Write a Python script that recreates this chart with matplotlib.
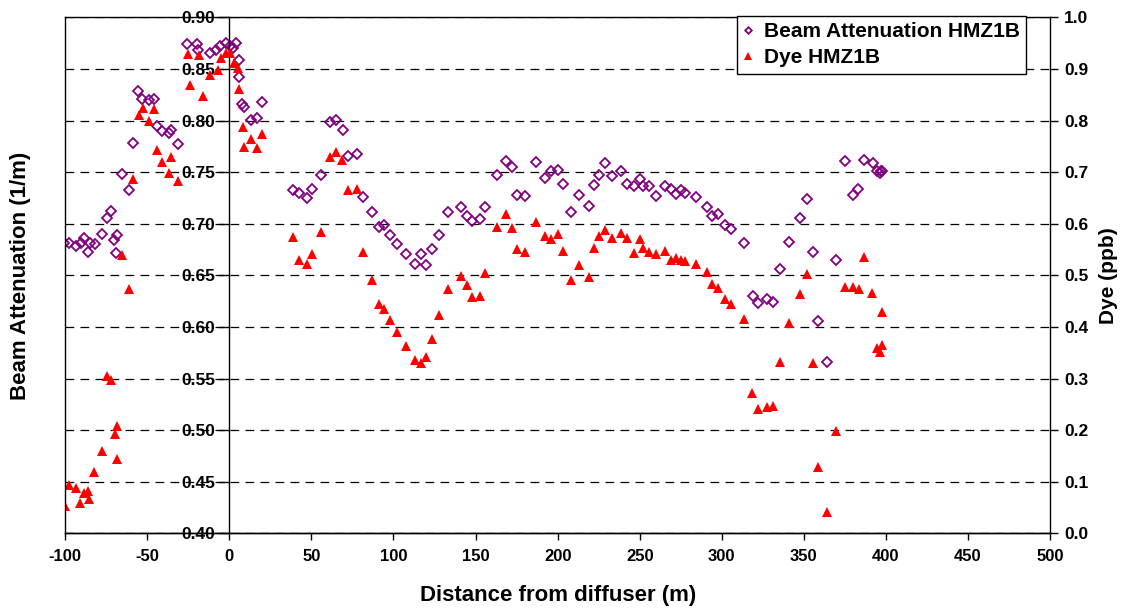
import matplotlib
matplotlib.use("Agg")
from matplotlib import pyplot as plt

plt.rcParams["font.family"] = ["Liberation Sans", "DejaVu Sans"]
plt.rcParams["font.weight"] = "bold"

# beam attenuation samples (distance m, 1/m)
beam_x = [-100.5, -97.7, -93.5, -90.6, -88.6, -86.4, -85.0, -81.9, -77.6, -74.4,
          -72.2, -70.2, -69.1, -68.7, -65.7, -61.2, -59.0, -55.5, -53.3, -48.8,
          -46.2, -44.3, -41.3, -36.8, -35.6, -31.2, -26.1, -20.0, -19.0, -12.1,
          -8.4, -5.8, -2.3, 0.3, 2.3, 3.8, 5.8, 5.8, 7.8, 9.0,
          13.1, 17.0, 20.0, 38.9, 42.3, 47.0, 50.4, 55.9, 61.2, 64.7,
          69.3, 72.4, 77.6, 81.3, 86.8, 90.9, 94.5, 97.7, 102.2, 107.7,
          113.4, 116.8, 119.9, 123.3, 127.8, 133.5, 141.2, 144.5, 147.9, 152.6,
          155.8, 163.1, 168.8, 172.5, 175.5, 180.1, 186.7, 192.1, 196.2, 200.2,
          203.5, 208.0, 212.9, 218.9, 222.2, 225.5, 228.9, 233.1, 238.9, 242.3,
          246.5, 250.0, 252.0, 255.9, 259.9, 265.4, 268.9, 271.9, 275.2, 277.8,
          284.3, 290.8, 294.3, 297.9, 301.9, 305.4, 313.3, 318.8, 322.3, 327.5,
          331.0, 335.3, 340.7, 347.4, 351.9, 355.5, 358.6, 364.0, 369.5, 375.3,
          379.7, 383.2, 386.4, 392.0, 394.3, 396.2, 396.8, 397.8]
beam_values = [0.681, 0.681, 0.678, 0.681, 0.686, 0.673, 0.681, 0.680, 0.690, 0.706,
               0.712, 0.684, 0.672, 0.689, 0.748, 0.733, 0.778, 0.829, 0.821, 0.820,
               0.821, 0.795, 0.790, 0.788, 0.791, 0.777, 0.874, 0.874, 0.868, 0.865,
               0.868, 0.872, 0.875, 0.872, 0.870, 0.875, 0.859, 0.842, 0.816, 0.813,
               0.801, 0.802, 0.818, 0.733, 0.730, 0.725, 0.734, 0.747, 0.799, 0.801,
               0.791, 0.766, 0.768, 0.726, 0.711, 0.697, 0.699, 0.689, 0.680, 0.671,
               0.661, 0.671, 0.660, 0.676, 0.689, 0.711, 0.716, 0.708, 0.703, 0.705,
               0.716, 0.747, 0.761, 0.755, 0.728, 0.727, 0.760, 0.744, 0.751, 0.752,
               0.739, 0.711, 0.728, 0.717, 0.738, 0.747, 0.759, 0.746, 0.751, 0.739,
               0.737, 0.743, 0.737, 0.737, 0.727, 0.737, 0.734, 0.729, 0.733, 0.730,
               0.726, 0.716, 0.708, 0.709, 0.699, 0.695, 0.681, 0.630, 0.623, 0.627,
               0.624, 0.656, 0.682, 0.706, 0.724, 0.673, 0.606, 0.566, 0.665, 0.761,
               0.728, 0.734, 0.762, 0.759, 0.751, 0.749, 0.751, 0.751]

# dye concentration samples (distance m, ppb)
dye_x = [-100.2, -97.7, -93.5, -91.0, -88.6, -86.2, -85.4, -82.3, -77.8, -74.4,
         -71.9, -69.7, -68.7, -68.7, -65.7, -61.2, -58.6, -55.3, -52.9, -48.8,
         -46.2, -44.3, -40.9, -36.7, -35.4, -31.2, -25.3, -24.2, -18.4, -16.3,
         -11.9, -7.2, -5.2, -2.3, 0.3, 2.7, 5.4, 5.8, 8.0, 9.0,
         13.1, 16.6, 20.0, 38.9, 42.3, 47.0, 50.4, 55.9, 61.2, 64.7,
         68.8, 72.4, 77.6, 81.3, 86.8, 90.9, 94.5, 97.7, 102.2, 107.7,
         113.4, 116.8, 119.9, 123.3, 127.8, 133.5, 141.2, 144.5, 147.9, 152.6,
         155.8, 163.1, 168.8, 172.5, 175.5, 180.1, 186.7, 192.1, 196.2, 200.2,
         203.5, 208.0, 212.9, 218.9, 222.2, 225.5, 228.9, 233.1, 238.9, 242.3,
         246.5, 250.0, 252.0, 255.5, 259.9, 265.4, 268.9, 271.9, 275.2, 277.8,
         284.3, 290.8, 294.3, 297.9, 301.9, 305.4, 313.3, 318.6, 322.3, 327.8,
         331.2, 335.3, 341.0, 347.4, 351.9, 355.5, 358.6, 364.0, 369.7, 375.3,
         379.9, 383.5, 386.4, 391.7, 394.3, 396.2, 397.4, 397.4]
dye_values = [0.053, 0.094, 0.089, 0.060, 0.078, 0.082, 0.066, 0.119, 0.160, 0.305,
              0.297, 0.192, 0.209, 0.144, 0.540, 0.474, 0.687, 0.811, 0.824, 0.799,
              0.822, 0.742, 0.720, 0.698, 0.729, 0.683, 0.929, 0.869, 0.927, 0.848,
              0.888, 0.898, 0.922, 0.930, 0.930, 0.911, 0.901, 0.861, 0.788, 0.749,
              0.764, 0.747, 0.773, 0.574, 0.530, 0.523, 0.541, 0.585, 0.730, 0.740,
              0.724, 0.665, 0.667, 0.546, 0.491, 0.444, 0.435, 0.414, 0.390, 0.363,
              0.337, 0.330, 0.341, 0.376, 0.423, 0.473, 0.498, 0.481, 0.459, 0.461,
              0.504, 0.594, 0.618, 0.591, 0.552, 0.545, 0.603, 0.576, 0.570, 0.580,
              0.548, 0.491, 0.520, 0.496, 0.554, 0.576, 0.588, 0.573, 0.582, 0.573,
              0.543, 0.570, 0.554, 0.546, 0.541, 0.547, 0.530, 0.533, 0.530, 0.528,
              0.523, 0.507, 0.483, 0.475, 0.454, 0.444, 0.415, 0.273, 0.242, 0.245,
              0.247, 0.332, 0.407, 0.464, 0.503, 0.330, 0.129, 0.042, 0.199, 0.478,
              0.477, 0.473, 0.535, 0.466, 0.359, 0.352, 0.365, 0.430]

x_ticks = [-100, -50, 0, 50, 100, 150, 200, 250, 300, 350, 400, 450, 500]
beam_ticks = [0.40, 0.45, 0.50, 0.55, 0.60, 0.65, 0.70, 0.75, 0.80, 0.85, 0.90]
dye_ticks = [0.0, 0.1, 0.2, 0.3, 0.4, 0.5, 0.6, 0.7, 0.8, 0.9, 1.0]

fig = plt.figure(figsize=(11.23, 6.09), dpi=100)
ax = fig.add_axes([0.0581, 0.124, 0.8769, 0.8476])
ax2 = ax.twinx()

beam_line, = ax.plot(beam_x, beam_values, linestyle="none", marker="D", markersize=4.8,
                     markerfacecolor="none", markeredgecolor="#800080", markeredgewidth=1.3,
                     label="Beam Attenuation HMZ1B")
dye_line, = ax2.plot(dye_x, dye_values, linestyle="none", marker="^", markersize=7.5,
                     color="red", markeredgewidth=0, label="Dye HMZ1B")

ax.set_xlim(-100, 500)
ax.set_ylim(0.40, 0.90)
ax2.set_ylim(0.0, 1.0)

# horizontal dashed grid from the beam axis
ax.grid(axis="y", color="black", linestyle=(0, (7, 5)), linewidth=0.9)
ax.set_axisbelow(True)

# beam axis crosses at x = 0
ax.spines["left"].set_position(("data", 0))
ax.spines["top"].set_visible(False)
ax.spines["right"].set_visible(False)
for s in ax2.spines.values():
    s.set_linewidth(1.0)
ax.spines["left"].set_linewidth(1.0)
ax.spines["bottom"].set_linewidth(1.0)

ax.set_xticks(x_ticks)
ax.set_xticklabels([str(v) for v in x_ticks], fontsize=12, fontweight="bold")
ax.set_yticks(beam_ticks)
ax.set_yticklabels([f"{v:.2f}" for v in beam_ticks], fontsize=12.5, fontweight="bold")
ax2.set_yticks(dye_ticks)
ax2.set_yticklabels([f"{v:.1f}" for v in dye_ticks], fontsize=12.5, fontweight="bold")
ax.tick_params(axis="x", direction="out", length=5, width=1, pad=6)
ax.tick_params(axis="y", direction="out", length=8, width=1, pad=2)
ax2.tick_params(axis="y", direction="out", length=6, width=1, pad=4)

ax.set_xlabel("Distance from diffuser (m)", fontsize=16, fontweight="bold", labelpad=15)
ax.set_ylabel("Beam Attenuation (1/m)", fontsize=16, fontweight="bold")
ax.yaxis.set_label_coords(-0.035, 0.5)
ax2.set_ylabel("Dye (ppb)", fontsize=15, fontweight="bold", rotation=90, labelpad=8)

leg = ax2.legend(handles=[beam_line, dye_line], loc="upper right",
                 bbox_to_anchor=(0.976, 1.003), borderaxespad=0, fancybox=False,
                 framealpha=1, edgecolor="black", prop={"size": 15, "weight": "bold"},
                 handlelength=0.5, handletextpad=0.5, markerscale=0.7, labelspacing=0.35,
                 borderpad=0.3)
leg.get_frame().set_linewidth(1.0)

fig.savefig("out.png", dpi=100)
